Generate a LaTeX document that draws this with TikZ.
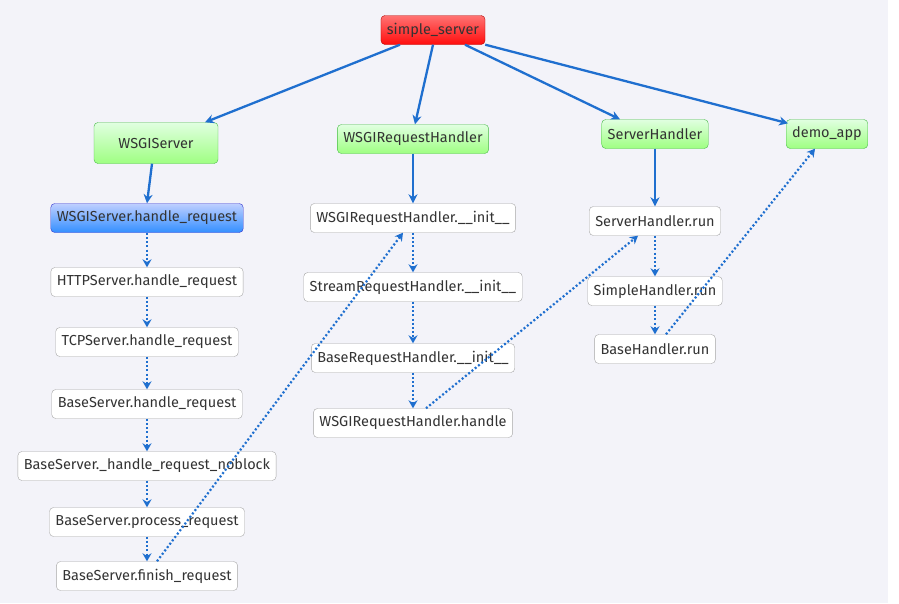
\documentclass[tikz,border=0pt]{standalone}
\usepackage{fontspec}
\setmainfont{Fira Sans}
\usetikzlibrary{arrows.meta, positioning}
\definecolor{bgcol}{HTML}{F3F3F9}
\definecolor{linkblue}{HTML}{1F6FCF}
\definecolor{txtgray}{HTML}{333333}
\tikzset{
    call/.style={draw=gray!70, rounded corners=4pt, fill=white, text=txtgray,
        minimum height=29pt, inner xsep=6pt, font=\fontsize{14.5}{17}\selectfont},
    module/.style={call, draw=green!45!gray, top color=green!12, bottom color=green!40!white!85!lime},
    root/.style={call, draw=red!70!black, top color=red!55, bottom color=red!95!white},
    entry/.style={call, draw=blue!60!gray, top color=cyan!25!blue!25, bottom color=blue!55!cyan!80},
    link/.style={-{Stealth[length=9pt, width=9pt]}, linkblue, line width=2.3pt},
    hop/.style={-{Stealth[length=8pt, width=9pt]}, linkblue, line width=2.2pt,
        dash pattern=on 2pt off 2.2pt}
}
\begin{document}
\begin{tikzpicture}[x=1pt, y=-1pt]
    % Background
    \useasboundingbox (0,0) rectangle (899,603);
    \fill[bgcol] (0,0) rectangle (888,603);
    % Top level
    \node[root] (ss) at (433,30) {simple\_server};
    \node[module, minimum width=124pt, minimum height=41pt] (wss) at (156,143) {WSGIServer};
    \node[module] (wrh) at (413,139) {WSGIRequestHandler};
    \node[module] (sh) at (655,134) {ServerHandler};
    \node[module] (demo) at (827,134) {demo\_app};
    % Server column
    \node[entry] (hreq) at (147,218) {WSGIServer.handle\_request};
    \node[call] (http) at (147,282) {HTTPServer.handle\_request};
    \node[call] (tcp) at (147,342) {TCPServer.handle\_request};
    \node[call] (base) at (147,404) {BaseServer.handle\_request};
    \node[call] (noblock) at (147,466) {BaseServer.\_handle\_request\_noblock};
    \node[call] (proc) at (147,522) {BaseServer.process\_request};
    \node[call] (fin) at (147,576) {BaseServer.finish\_request};
    % Request handler column
    \node[call] (wrhinit) at (413,218) {WSGIRequestHandler.\_\_init\_\_};
    \node[call] (srhinit) at (413,287) {StreamRequestHandler.\_\_init\_\_};
    \node[call] (brhinit) at (413,358) {BaseRequestHandler.\_\_init\_\_};
    \node[call] (wrhh) at (413,423) {WSGIRequestHandler.handle};
    % Handler column
    \node[call] (shrun) at (655,221) {ServerHandler.run};
    \node[call] (simrun) at (655,291) {SimpleHandler.run};
    \node[call] (bhrun) at (655,349) {BaseHandler.run};
    % Solid links
    \draw[link] ([xshift=-33pt]ss.south) -- ([xshift=49pt]wss.north);
    \draw[link] (ss.south) -- ([xshift=2pt]wrh.north);
    \draw[link] ([xshift=32pt]ss.south) -- ([xshift=-35pt]sh.north);
    \draw[link] (ss.south east) -- ([yshift=-4pt, xshift=2pt]demo.north west);
    \draw[link] ([xshift=-4pt]wss.south) -- (hreq.north);
    \draw[link] (wrh.south) -- (wrhinit.north);
    \draw[link] (sh.south) -- (shrun.north);
    % Dotted call chains
    \draw[hop] (hreq) -- (http);
    \draw[hop] (http) -- (tcp);
    \draw[hop] (tcp) -- (base);
    \draw[hop] (base) -- (noblock);
    \draw[hop] (noblock) -- (proc);
    \draw[hop] (proc) -- (fin);
    \draw[hop] (wrhinit) -- (srhinit);
    \draw[hop] (srhinit) -- (brhinit);
    \draw[hop] (brhinit) -- (wrhh);
    \draw[hop] (shrun) -- (simrun);
    \draw[hop] (simrun) -- (bhrun);
    % Cross links
    \draw[hop] ([xshift=10pt]fin.north) -- ([xshift=-10pt]wrhinit.south);
    \draw[hop] ([xshift=13pt]wrhh.north) -- ([xshift=-17pt]shrun.south);
    \draw[hop] ([xshift=11pt]bhrun.north) -- ([xshift=-12pt]demo.south);
\end{tikzpicture}
\end{document}
